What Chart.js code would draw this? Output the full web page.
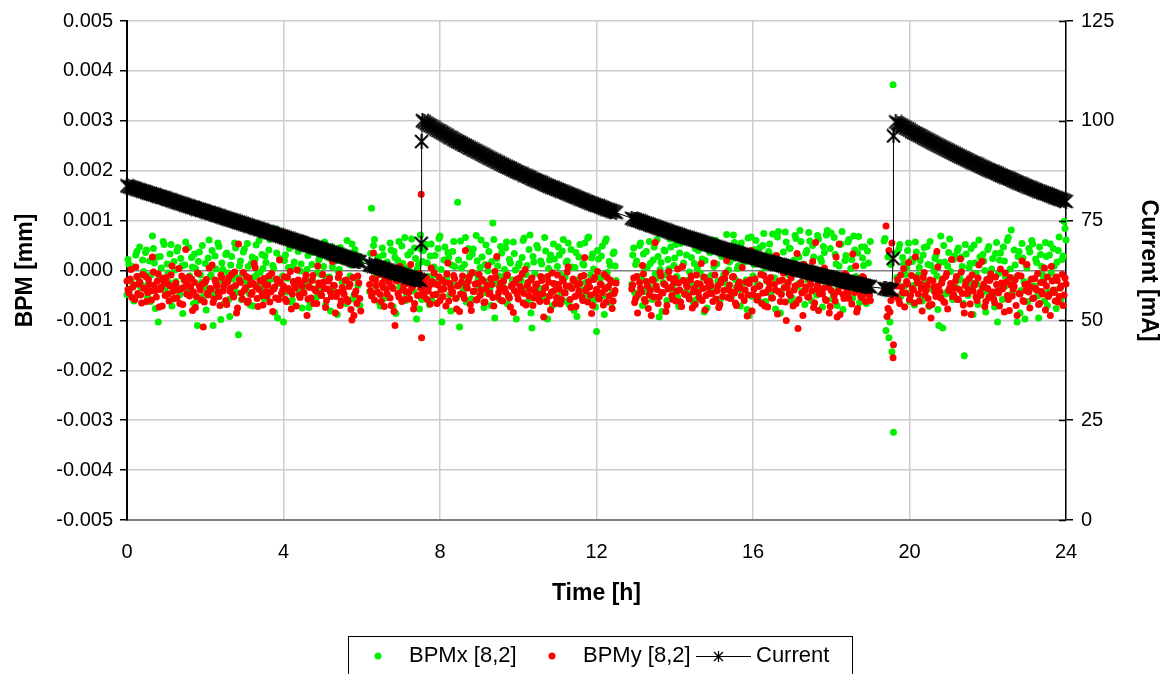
<!DOCTYPE html>
<html lang="en">
<head>
  <meta charset="UTF-8" />
  <title>BPM [8,2] and beam current, 24 h</title>
  <script src="https://cdn.jsdelivr.net/npm/chart.js"></script>
  <style>
    body { margin: 0; background: white; }
    #chart { display: block; }
  </style>
</head>
<body>
  <canvas id="chart" width="1163" height="674"></canvas>

  <script>
    // log sample times [h] (BPM and current logged together)
    const hours = [
      0,0.05,0.1,0.15,0.2,0.25,0.3,0.35,0.4,0.45,
      0.5,0.55,0.6,0.65,0.7,0.75,0.8,0.85,0.9,0.95,
      1,1.05,1.1,1.15,1.2,1.25,1.3,1.35,1.4,1.45,
      1.5,1.55,1.6,1.65,1.7,1.75,1.8,1.85,1.9,1.95,
      2,2.05,2.1,2.15,2.2,2.25,2.3,2.35,2.4,2.45,
      2.5,2.55,2.6,2.65,2.7,2.75,2.8,2.85,2.9,2.95,
      3,3.05,3.1,3.15,3.2,3.25,3.3,3.35,3.4,3.45,
      3.5,3.55,3.6,3.65,3.7,3.75,3.8,3.85,3.9,3.95,
      4,4.05,4.1,4.15,4.2,4.25,4.3,4.35,4.4,4.45,
      4.5,4.55,4.6,4.65,4.7,4.75,4.8,4.85,4.9,4.95,
      5,5.05,5.1,5.15,5.2,5.25,5.3,5.35,5.4,5.45,
      5.5,5.55,5.6,5.65,5.7,5.75,5.8,5.85,5.9,5.95,
      6.2,6.25,6.3,6.35,6.4,6.45,6.5,6.55,6.6,6.65,
      6.7,6.75,6.8,6.85,6.9,6.95,7,7.05,7.1,7.15,
      7.2,7.25,7.3,7.35,7.4,7.45,7.5,
      7.52,7.53,
      7.55,7.6,7.65,7.7,7.75,7.8,7.85,7.9,7.95,8,
      8.05,8.1,8.15,8.2,8.25,8.3,8.35,8.4,8.45,8.5,
      8.55,8.6,8.65,8.7,8.75,8.8,8.85,8.9,8.95,9,
      9.05,9.1,9.15,9.2,9.25,9.3,9.35,9.4,9.45,9.5,
      9.55,9.6,9.65,9.7,9.75,9.8,9.85,9.9,9.95,10,
      10.05,10.1,10.15,10.2,10.25,10.3,10.35,10.4,10.45,10.5,
      10.55,10.6,10.65,10.7,10.75,10.8,10.85,10.9,10.95,11,
      11.05,11.1,11.15,11.2,11.25,11.3,11.35,11.4,11.45,11.5,
      11.55,11.6,11.65,11.7,11.75,11.8,11.85,11.9,11.95,12,
      12.05,12.1,12.15,12.2,12.25,12.3,12.35,12.4,12.45,12.5,
      12.9,12.95,13,13.05,13.1,13.15,13.2,13.25,13.3,13.35,
      13.4,13.45,13.5,13.55,13.6,13.65,13.7,13.75,13.8,13.85,
      13.9,13.95,14,14.05,14.1,14.15,14.2,14.25,14.3,14.35,
      14.4,14.45,14.5,14.55,14.6,14.65,14.7,14.75,14.8,14.85,
      14.9,14.95,15,15.05,15.1,15.15,15.2,15.25,15.3,15.35,
      15.4,15.45,15.5,15.55,15.6,15.65,15.7,15.75,15.8,15.85,
      15.9,15.95,16,16.05,16.1,16.15,16.2,16.25,16.3,16.35,
      16.4,16.45,16.5,16.55,16.6,16.65,16.7,16.75,16.8,16.85,
      16.9,16.95,17,17.05,17.1,17.15,17.2,17.25,17.3,17.35,
      17.4,17.45,17.5,17.55,17.6,17.65,17.7,17.75,17.8,17.85,
      17.9,17.95,18,18.05,18.1,18.15,18.2,18.25,18.3,18.35,
      18.4,18.45,18.5,18.55,18.6,18.65,18.7,18.75,18.8,18.85,
      18.9,18.95,19,
      19.35,19.4,19.45,19.5,19.55,
      19.58,19.59,
      19.65,19.7,19.75,19.8,19.85,19.9,19.95,20,20.05,20.1,
      20.15,20.2,20.25,20.3,20.35,20.4,20.45,20.5,20.55,20.6,
      20.65,20.7,20.75,20.8,20.85,20.9,20.95,21,21.05,21.1,
      21.15,21.2,21.25,21.3,21.35,21.4,21.45,21.5,21.55,21.6,
      21.65,21.7,21.75,21.8,21.85,21.9,21.95,22,22.05,22.1,
      22.15,22.2,22.25,22.3,22.35,22.4,22.45,22.5,22.55,22.6,
      22.65,22.7,22.75,22.8,22.85,22.9,22.95,23,23.05,23.1,
      23.15,23.2,23.25,23.3,23.35,23.4,23.45,23.5,23.55,23.6,
      23.65,23.7,23.75,23.8,23.85,23.9,23.95,24
    ];

    // BPM readings in µm (axis is labelled in mm)
    const bpmX = [
      -0.48,0.12,-0.21,0.05,-0.55,0.38,-0.12,-0.34,0.21,-0.08,
      0.41,-0.27,-0.62,0.69,0.15,-0.39,-1.03,0.28,-0.15,0.52,
      -0.31,-0.05,0.33,-0.71,0.18,-0.22,0.46,-0.48,0.09,-0.18,
      0.57,-0.35,-0.11,0.26,-0.66,0.04,-1.10,0.37,-0.24,-0.52,
      0.14,-0.41,0.61,-0.09,-1.10,0.29,-0.33,0.48,-0.98,0.02,
      -0.26,0.35,-0.58,0.11,-0.17,0.55,-0.44,-1.29,0.19,-0.07,
      0.43,-0.36,0.08,-0.69,0.27,-0.13,0.51,-0.29,-0.04,0.32,
      -0.56,0.16,-0.21,0.62,-0.38,0.05,0.83,-0.95,0.24,-0.47,
      -1.03,0.31,-0.16,0.44,-0.63,0.09,-0.27,0.58,-0.41,0.13,
      0.65,-0.32,0.02,-0.74,0.36,-0.19,0.49,-0.53,0.21,-0.08,
      -0.37,0.57,-0.14,0.25,-0.81,0.07,0.39,-0.45,-0.02,0.46,
      -0.23,0.18,-0.66,0.34,-0.11,0.53,-0.49,0.12,-0.30,-0.70,
      -0.42,1.25,0.50,-0.31,0.22,-0.64,0.08,0.31,-0.55,0.17,
      -0.18,0.41,-0.72,0.26,-0.09,0.58,-0.37,0.14,0.66,-0.48,
      0.03,0.37,-0.26,0.45,-0.97,0.12,0.71,
      0.42,-0.58,
      0.18,-0.35,0.52,-0.12,0.29,-0.61,0.07,-0.24,0.44,0.69,
      -1.03,0.21,-0.17,0.36,-0.48,0.11,0.58,-0.29,1.37,-1.13,
      0.05,-0.39,0.66,-0.14,0.27,-0.57,0.43,-0.06,0.19,-0.33,
      0.61,-0.45,0.12,-0.22,0.38,-0.70,0.95,-0.95,0.24,-0.11,
      0.48,-0.31,0.02,0.57,-0.52,0.15,-0.19,0.34,-0.97,0.09,
      -0.41,0.26,0.65,-0.08,-0.62,0.71,-1.15,0.17,-0.28,0.45,
      -0.36,0.13,-0.55,0.39,-0.97,0.21,-0.04,0.53,-0.27,0.08,
      0.31,-0.46,0.62,-0.13,0.19,-0.68,0.42,-0.21,0.06,-0.92,
      0.27,-0.38,0.14,0.55,-0.49,0.67,-0.09,0.33,-0.58,-1.22,
      0.23,-0.16,0.49,-0.88,0.63,-0.32,0.10,-0.44,0.37,-0.20,
      -0.28,0.45,0.12,-0.51,0.50,-0.16,0.33,-0.42,0.07,0.58,
      -0.35,0.21,-0.07,0.62,-0.93,0.16,-0.24,0.39,-0.60,0.03,
      0.47,-0.31,0.25,-0.12,-0.72,0.54,0.09,-0.44,0.31,-0.19,
      0.66,-0.27,0.14,-0.58,0.40,-0.05,0.23,-0.83,0.51,-0.14,
      0.36,-0.40,0.08,0.60,-0.22,-0.67,0.28,-0.09,0.45,-0.33,
      0.17,-0.52,0.71,-0.18,0.04,-0.38,0.55,-0.26,0.32,-0.78,
      -0.90,0.67,-0.11,0.42,-0.29,0.19,-0.63,0.50,0.06,-0.21,
      0.38,-0.46,0.73,-0.15,0.26,0.78,-0.85,0.11,-0.34,0.57,
      -0.08,0.44,-0.55,0.21,0.64,-0.27,0.80,-0.42,0.13,0.35,
      -0.19,0.59,-0.61,0.27,-0.03,0.70,-0.36,0.18,0.48,-0.24,
      0.80,-0.13,0.75,-0.47,0.32,-0.70,0.09,0.53,-0.78,0.20,
      -0.31,0.62,0.04,-0.55,0.41,-0.17,0.68,-0.38,0.25,0.47,
      -0.66,0.15,0.58,
      0.59,-1.20,0.27,-1.03,-1.63,
      3.72,-3.24,
      0.35,-0.21,0.52,-0.47,0.13,-0.08,0.40,-0.62,0.22,-0.30,
      0.57,-0.15,0.06,-0.53,0.31,-0.26,0.48,-0.72,0.10,-0.39,
      0.24,-0.11,-1.10,0.69,-1.15,0.17,-0.44,0.36,-0.02,-0.58,
      0.29,-0.34,0.45,-0.19,0.08,-1.71,0.33,-0.50,0.14,-0.25,
      0.51,-0.06,-0.68,0.27,-0.37,0.19,-0.83,0.42,-0.14,0.03,
      -0.46,0.34,-1.03,0.21,-0.29,0.47,-0.12,0.60,-0.55,0.81,
      -0.23,0.11,-1.03,0.38,-0.40,0.25,-0.97,0.05,0.44,-0.18,
      0.53,-0.31,0.16,-0.95,0.32,-0.08,-0.61,0.28,-0.43,0.53,
      -0.20,0.09,-0.76,0.40,-0.35,0.22,0.98,0.61
    ];

    const bpmY = [
      -0.21,-0.45,0.02,-0.33,-0.58,-0.12,-0.27,-0.49,-0.08,-0.36,
      -0.62,-0.18,-0.41,0.27,-0.29,-0.53,-0.07,-0.38,-0.71,-0.22,
      -0.14,-0.47,-0.31,0.09,-0.56,-0.25,-0.39,-0.66,-0.11,-0.34,
      0.42,-0.28,-0.51,-0.17,-0.43,-0.74,-0.05,-0.32,-0.59,-1.13,
      -0.23,-0.46,0.05,-0.37,-0.64,-0.19,-0.30,-0.52,-0.09,-0.41,
      -0.26,-0.68,-0.15,-0.35,-0.48,-0.03,-0.85,0.53,-0.24,-0.57,
      -0.39,-0.12,-0.61,-0.28,-0.44,0.14,-0.33,-0.72,-0.20,-0.50,
      -0.16,-0.42,-0.29,-0.63,-0.06,-0.37,-0.55,-0.23,0.21,-0.46,
      -0.31,-0.58,-0.13,-0.40,-0.77,-0.22,-0.35,0.01,-0.49,-0.27,
      -0.44,-0.18,-0.90,-0.32,-0.55,-0.10,-0.38,-0.66,-0.25,-0.47,
      -0.08,-0.36,-0.60,-0.21,-0.43,0.18,-0.30,-0.52,-0.14,-0.70,
      -0.34,-0.48,-0.19,-0.62,-0.27,-0.99,-0.90,-0.41,-0.11,-0.56,
      -0.28,-0.51,0.35,-0.19,-0.43,-0.08,-0.62,-0.34,-0.15,-0.47,
      -0.24,-0.70,-0.36,-1.10,-0.21,-0.53,-0.05,-0.39,-0.58,-0.26,
      -0.44,0.12,-0.31,-0.66,-0.18,-0.49,-0.35,
      1.53,-1.35,
      -0.33,-0.52,-0.14,-0.41,-0.67,-0.22,-0.05,-0.48,-0.29,-0.60,
      -0.19,-0.37,-0.71,0.15,-0.26,-0.45,-0.10,-0.56,-0.31,-0.82,
      -0.23,-0.49,0.40,-0.35,-0.13,-0.80,-0.42,-0.27,-0.58,-0.08,
      -0.39,-0.21,-0.63,-0.30,-0.47,-0.16,-0.54,-0.02,0.28,-0.44,
      -0.25,-0.61,-0.36,-0.11,-0.50,-0.73,-0.28,-0.40,-0.18,-0.57,
      -0.32,-0.07,-0.46,-0.69,-0.24,-0.38,-0.15,-0.55,-0.30,-0.48,
      -0.62,-0.20,-0.93,-0.34,-0.12,-0.51,-0.43,-0.26,-0.66,-0.09,
      -0.37,-0.58,-0.21,-0.45,-0.03,-0.31,-0.74,-0.17,-0.52,-0.29,
      -0.41,-0.12,-0.60,0.26,-0.35,-0.22,-0.49,-0.70,-0.14,-0.38,
      -0.55,-0.27,-0.44,-0.08,-0.63,-0.33,-0.19,-0.76,-0.46,-0.25,
      -0.37,-0.15,-0.56,-0.85,-0.24,-0.43,-0.07,-0.62,-0.31,-0.49,
      -0.90,-0.20,0.56,-0.38,-0.53,-0.11,-0.45,-0.28,-0.70,-0.02,
      -0.34,-0.58,-0.16,-0.41,-0.25,-0.63,0.08,-0.47,-0.30,-0.52,
      -0.19,-0.75,-0.36,-0.09,-0.44,-0.27,-0.60,-0.13,-0.50,-0.33,
      -0.22,-0.46,0.15,-0.57,-0.31,-0.68,-0.18,-0.40,-0.05,-0.54,
      -0.29,-0.43,-0.12,-0.65,-0.35,-0.23,-0.51,0.22,-0.39,-0.91,
      -0.26,0.40,-0.48,-0.17,-0.59,-0.32,-0.08,-0.45,-0.71,-0.20,
      -0.37,-0.14,-0.55,-0.28,0.30,-0.42,-0.62,-0.19,-0.34,-1.00,
      -0.24,-0.50,-0.06,-0.39,-0.66,-1.16,-0.27,-0.45,0.12,-0.33,
      -0.53,-0.18,-0.41,-0.74,0.56,-0.29,-0.47,-0.10,-0.36,-0.58,
      -0.22,-0.85,-0.40,-0.15,-0.61,-0.93,0.53,-0.31,-0.48,-0.07,
      -0.38,-0.56,-0.20,0.33,-0.44,-0.83,-0.26,-0.51,-0.12,-0.35,
      -0.47,-0.23,-0.60,
      -0.40,0.89,-0.76,-0.83,0.55,
      -1.75,-1.49,
      -0.52,-0.18,-0.66,-0.33,0.04,-0.45,-0.27,-0.58,-0.10,-0.39,
      0.27,-0.24,-0.61,-0.36,-0.14,-0.49,-0.29,-0.70,-0.95,-0.21,
      -0.43,0.38,-0.31,-0.55,-0.17,-0.64,-0.06,-0.40,-0.26,-0.52,
      -0.35,-0.12,-0.58,0.23,-0.46,-0.85,-0.22,-0.38,-0.67,-0.09,
      -0.30,-0.53,-0.15,-0.44,0.18,-0.27,-0.62,-0.36,-0.20,-0.48,
      -0.57,-0.13,-0.41,-0.71,-0.25,-0.34,-0.05,-0.50,-0.80,-0.29,
      -0.37,-0.19,-0.90,-0.46,-0.11,-0.60,-0.28,0.12,-0.43,-0.33,
      -0.56,-0.16,-0.39,-0.68,-0.24,-0.47,0.05,-0.31,-0.52,-0.90,
      -0.21,-0.44,-0.13,-0.63,-0.35,-0.08,-0.49,-0.27
    ];

    // second BPM pass, read half way between the samples above
    const hours2 = [
      0.025,0.075,0.125,0.175,0.225,0.275,0.325,0.375,0.425,0.475,
      0.525,0.575,0.625,0.675,0.725,0.775,0.825,0.875,0.925,0.975,
      1.025,1.075,1.125,1.175,1.225,1.275,1.325,1.375,1.425,1.475,
      1.525,1.575,1.625,1.675,1.725,1.775,1.825,1.875,1.925,1.975,
      2.025,2.075,2.125,2.175,2.225,2.275,2.325,2.375,2.425,2.475,
      2.525,2.575,2.625,2.675,2.725,2.775,2.825,2.875,2.925,2.975,
      3.025,3.075,3.125,3.175,3.225,3.275,3.325,3.375,3.425,3.475,
      3.525,3.575,3.625,3.675,3.725,3.775,3.825,3.875,3.925,3.975,
      4.025,4.075,4.125,4.175,4.225,4.275,4.325,4.375,4.425,4.475,
      4.525,4.575,4.625,4.675,4.725,4.775,4.825,4.875,4.925,4.975,
      5.025,5.075,5.125,5.175,5.225,5.275,5.325,5.375,5.425,5.475,
      5.525,5.575,5.625,5.675,5.725,5.775,5.825,5.875,5.925,5.975,
      6.225,6.275,6.325,6.375,6.425,6.475,6.525,6.575,6.625,6.675,
      6.725,6.775,6.825,6.875,6.925,6.975,7.025,7.075,7.125,7.175,
      7.225,7.275,7.325,7.375,7.425,7.475,
      7.575,7.625,7.675,7.725,7.775,7.825,7.875,7.925,7.975,8.025,
      8.075,8.125,8.175,8.225,8.275,8.325,8.375,8.425,8.475,8.525,
      8.575,8.625,8.675,8.725,8.775,8.825,8.875,8.925,8.975,9.025,
      9.075,9.125,9.175,9.225,9.275,9.325,9.375,9.425,9.475,9.525,
      9.575,9.625,9.675,9.725,9.775,9.825,9.875,9.925,9.975,10.025,
      10.075,10.125,10.175,10.225,10.275,10.325,10.375,10.425,10.475,10.525,
      10.575,10.625,10.675,10.725,10.775,10.825,10.875,10.925,10.975,11.025,
      11.075,11.125,11.175,11.225,11.275,11.325,11.375,11.425,11.475,11.525,
      11.575,11.625,11.675,11.725,11.775,11.825,11.875,11.925,11.975,12.025,
      12.075,12.125,12.175,12.225,12.275,12.325,12.375,12.425,12.475,
      12.925,12.975,13.025,13.075,13.125,13.175,13.225,13.275,13.325,13.375,
      13.425,13.475,13.525,13.575,13.625,13.675,13.725,13.775,13.825,13.875,
      13.925,13.975,14.025,14.075,14.125,14.175,14.225,14.275,14.325,14.375,
      14.425,14.475,14.525,14.575,14.625,14.675,14.725,14.775,14.825,14.875,
      14.925,14.975,15.025,15.075,15.125,15.175,15.225,15.275,15.325,15.375,
      15.425,15.475,15.525,15.575,15.625,15.675,15.725,15.775,15.825,15.875,
      15.925,15.975,16.025,16.075,16.125,16.175,16.225,16.275,16.325,16.375,
      16.425,16.475,16.525,16.575,16.625,16.675,16.725,16.775,16.825,16.875,
      16.925,16.975,17.025,17.075,17.125,17.175,17.225,17.275,17.325,17.375,
      17.425,17.475,17.525,17.575,17.625,17.675,17.725,17.775,17.825,17.875,
      17.925,17.975,18.025,18.075,18.125,18.175,18.225,18.275,18.325,18.375,
      18.425,18.475,18.525,18.575,18.625,18.675,18.725,18.775,18.825,18.875,
      18.925,18.975,
      19.375,19.425,19.475,19.525,
      19.675,19.725,19.775,19.825,19.875,19.925,19.975,20.025,20.075,20.125,
      20.175,20.225,20.275,20.325,20.375,20.425,20.475,20.525,20.575,20.625,
      20.675,20.725,20.775,20.825,20.875,20.925,20.975,21.025,21.075,21.125,
      21.175,21.225,21.275,21.325,21.375,21.425,21.475,21.525,21.575,21.625,
      21.675,21.725,21.775,21.825,21.875,21.925,21.975,22.025,22.075,22.125,
      22.175,22.225,22.275,22.325,22.375,22.425,22.475,22.525,22.575,22.625,
      22.675,22.725,22.775,22.825,22.875,22.925,22.975,23.025,23.075,23.125,
      23.175,23.225,23.275,23.325,23.375,23.425,23.475,23.525,23.575,23.625,
      23.675,23.725,23.775,23.825,23.875,23.925,23.975
    ];

    const bpmX2 = [
      0.22,-0.37,0.08,-0.61,0.31,-0.14,0.47,-0.29,-0.02,0.36,
      -0.53,0.19,-0.08,0.44,-0.76,0.27,-0.19,0.05,0.58,-0.41,
      0.13,-0.24,0.52,-0.57,0.01,0.39,-0.35,0.24,-0.86,0.11,
      -0.16,0.46,-0.44,0.07,0.33,-0.62,0.18,-0.09,0.50,-0.30,
      -0.79,0.25,-0.12,0.40,-0.48,0.03,0.55,-0.21,0.15,-0.67,
      0.32,-0.05,-0.92,0.28,-0.33,0.45,-0.15,0.09,-0.58,0.37,
      -0.22,0.54,-0.46,0.14,-0.71,0.23,-0.07,0.60,-0.38,0.04,
      0.29,-0.55,0.41,-0.18,0.10,-0.84,0.35,-0.26,0.68,-0.11,
      0.20,-0.43,0.06,0.49,-0.59,0.17,-0.31,0.38,-0.01,-0.75,
      0.44,-0.20,0.30,-0.64,0.12,0.56,-0.36,-0.04,0.26,-0.50,
      0.08,-0.69,0.37,-0.13,0.48,-0.40,0.19,-0.88,0.02,0.33,
      -0.45,0.21,0.60,-0.28,0.11,-0.57,0.42,-0.17,0.29,0.15,
      0.34,-0.46,0.62,-0.10,0.27,-0.71,0.45,-0.20,0.13,-0.53,
      0.55,-0.02,0.38,-0.86,0.20,-0.33,0.49,0.07,-0.60,0.31,
      -0.15,0.63,-0.41,0.24,0.04,-0.77,
      0.40,-0.22,0.15,-0.68,0.53,-0.09,0.30,-0.47,0.64,0.02,
      -0.36,0.47,-0.14,0.26,-0.81,0.38,0.08,-0.55,0.21,0.59,
      -0.27,0.12,-0.63,0.44,-0.05,0.33,-0.42,0.70,-0.18,0.06,
      0.27,-0.74,0.51,-0.01,-0.39,0.18,0.62,-0.26,0.09,-0.58,
      0.35,-0.12,0.45,-0.67,0.22,-0.30,0.57,0.01,-0.48,0.14,
      -0.20,0.60,-0.37,0.10,0.42,-0.85,0.28,-0.06,0.50,-0.43,
      0.19,-0.15,0.66,-0.52,0.04,0.31,-0.70,0.23,-0.29,0.47,
      -0.08,0.39,-0.61,0.16,0.55,-0.34,0.07,-0.80,0.36,-0.19,
      0.52,-0.42,0.11,-0.24,0.65,-0.56,0.25,0.03,-0.73,0.40,
      -0.13,0.29,-0.50,0.58,-0.04,0.18,-0.65,0.34,0.09,
      0.31,-0.44,0.19,-0.12,0.55,-0.70,0.06,0.38,-0.25,0.14,
      -0.58,0.47,-0.16,0.28,0.02,-0.82,0.41,-0.09,0.22,0.63,
      -0.37,0.10,0.52,-0.53,0.35,-0.20,0.15,0.68,-0.46,-0.03,
      0.26,-0.64,0.44,0.05,-0.31,0.57,-0.14,0.20,-0.75,0.39,
      -0.10,0.61,-0.40,0.13,0.48,-0.56,0.30,-0.23,0.72,0.01,
      -0.47,0.24,0.56,-0.33,0.09,-0.71,0.42,0.17,-0.19,0.65,
      0.34,-0.52,0.12,0.60,-0.28,0.46,-0.07,0.74,-0.62,0.21,
      0.53,-0.15,0.29,-0.77,0.67,0.08,-0.41,0.37,0.77,-0.24,
      0.45,-0.60,0.18,0.70,-0.32,0.27,0.58,-0.11,-0.68,0.40,
      0.76,-0.21,0.50,0.03,-0.49,0.63,0.24,-0.73,0.36,0.71,
      -0.06,0.44,-0.57,0.66,0.13,-0.38,0.52,0.78,-0.26,0.30,
      0.57,-0.45,0.22,0.69,-0.12,0.35,-0.64,0.47,0.10,-0.30,
      0.39,-0.51,
      0.64,-0.35,-1.35,0.12,
      -0.14,0.43,-0.52,0.26,-0.31,0.05,0.55,-0.44,0.18,-0.69,
      0.37,-0.09,0.20,-0.61,0.46,-0.24,0.12,0.58,-0.36,-0.01,
      0.30,-0.78,0.16,-0.20,0.50,-0.47,0.09,0.63,-0.29,0.22,
      -0.55,0.40,-0.10,0.27,-0.66,0.52,-0.33,0.06,0.44,-0.88,
      0.15,-0.27,0.61,-0.50,0.32,0.00,-0.42,0.48,-0.16,0.24,
      -0.73,0.56,-0.06,0.35,-0.58,0.19,-0.30,0.66,0.03,-0.45,
      0.41,-0.13,0.28,-0.85,0.54,-0.22,0.12,-0.62,0.37,0.60,
      -0.35,0.23,-0.51,0.47,0.08,-0.18,0.56,-0.70,0.31,-0.05,
      0.44,-0.39,0.17,0.67,-0.57,0.29,0.84
    ];

    const bpmY2 = [
      -0.38,-0.17,-0.54,-0.29,0.07,-0.46,-0.23,-0.65,-0.35,-0.12,
      -0.44,-0.28,-0.59,-0.03,-0.40,-0.21,-0.73,-0.33,-0.16,-0.50,
      -0.26,-0.61,-0.09,-0.42,-0.31,-0.55,0.04,-0.37,-0.68,-0.20,
      -0.47,-0.13,-0.34,-0.80,-0.24,-0.52,-0.06,-0.39,-0.27,-0.63,
      -0.18,-0.49,-0.36,0.11,-0.57,-0.25,-0.43,-0.70,-0.14,-0.32,
      -0.60,-0.22,-0.41,-0.08,-0.53,-0.30,-0.75,-0.19,-0.45,-0.04,
      -0.35,-0.64,-0.15,-0.48,-0.26,0.06,-0.56,-0.38,-0.21,-0.69,
      -0.28,-0.51,-0.11,-0.43,-0.82,-0.33,-0.17,-0.58,-0.24,-0.40,
      -0.13,-0.62,-0.36,-0.02,-0.47,-0.27,-0.71,-0.19,-0.54,-0.31,
      -0.45,-0.09,-0.57,-0.34,-0.20,-0.66,-0.41,0.09,-0.29,-0.50,
      -0.23,-0.74,-0.37,-0.16,-0.52,-0.30,-0.85,-0.44,-0.07,-0.61,
      -0.39,-0.20,-0.58,-0.32,-0.78,-0.14,-0.47,-0.66,-0.25,-0.81,
      -0.41,-0.16,-0.59,-0.30,-0.02,-0.48,-0.25,-0.72,-0.37,-0.11,
      -0.55,-0.33,-0.82,-0.20,-0.46,0.08,-0.62,-0.29,-0.42,-0.14,
      -0.57,-0.35,-0.77,-0.23,-0.50,-0.06,
      -0.44,-0.20,-0.58,-0.31,0.05,-0.49,-0.27,-0.66,-0.13,-0.38,
      -0.52,-0.24,-0.07,-0.61,-0.35,-0.43,-0.16,-0.77,-0.29,-0.47,
      -0.11,-0.56,-0.33,-0.22,-0.68,-0.04,-0.41,-0.59,-0.26,-0.50,
      -0.18,-0.64,-0.37,0.10,-0.45,-0.28,-0.71,-0.14,-0.53,-0.34,
      -0.60,-0.21,-0.43,-0.09,-0.55,-0.32,-0.84,-0.25,-0.47,-0.15,
      -0.39,-0.65,0.02,-0.30,-0.51,-0.19,-0.70,-0.42,-0.27,-0.57,
      -0.12,-0.46,-0.35,-0.62,-0.23,-0.79,-0.05,-0.40,-0.54,-0.28,
      -0.67,-0.17,-0.44,-0.31,0.07,-0.58,-0.36,-0.21,-0.72,-0.48,
      -0.26,-0.53,-0.10,-0.40,-0.63,-0.33,-0.86,-0.18,-0.45,-0.02,
      -0.57,-0.29,-0.69,-0.37,-0.14,-0.51,-0.24,-0.61,-0.40,
      -0.29,-0.64,-0.12,-0.47,-0.35,0.10,-0.58,-0.22,-0.76,-0.40,
      -0.18,-0.53,-0.31,-0.66,-0.04,-0.44,-0.27,-0.82,-0.37,-0.15,
      -0.50,-0.24,-0.61,0.03,-0.39,-0.72,-0.20,-0.48,-0.33,-0.57,
      -0.11,-0.43,-0.68,-0.26,-0.54,0.14,-0.36,-0.79,-0.21,-0.46,
      -0.30,-0.62,-0.09,-0.41,-0.74,-0.25,-0.52,-0.16,0.20,-0.38,
      -0.56,-0.13,-0.45,-0.70,-0.28,-0.35,0.06,-0.60,-0.23,-0.49,
      -0.19,-0.81,-0.37,0.25,-0.52,-0.30,-0.66,-0.10,-0.44,-0.73,
      -0.27,-0.55,0.12,-0.39,-0.87,-0.21,-0.48,-0.05,-0.63,-0.34,
      -0.46,-0.15,-0.71,-0.31,0.34,-0.58,-0.24,-0.90,-0.40,-0.12,
      -0.53,-0.28,0.18,-0.65,-0.37,-0.80,-0.20,-0.47,0.05,-0.60,
      -0.33,-0.72,-0.16,-0.50,0.27,-0.42,-0.88,-0.25,-0.56,-0.08,
      -0.45,-0.19,-0.67,-0.31,0.09,-0.76,-0.38,-0.54,-0.14,-0.62,
      -0.28,-0.49,
      -0.35,-0.92,0.40,-0.60,
      -0.31,-0.59,-0.09,-0.44,-0.73,-0.22,0.16,-0.50,-0.36,-0.65,
      -0.15,-0.47,-0.27,-0.81,-0.04,-0.39,-0.56,-0.19,-0.68,-0.33,
      -0.52,0.07,-0.42,-0.25,-0.62,-0.12,-0.77,-0.35,0.22,-0.48,
      -0.21,-0.58,-0.38,-0.03,-0.69,-0.30,-0.46,-0.16,-0.88,-0.41,
      -0.26,-0.60,0.11,-0.49,-0.34,-0.72,-0.18,-0.54,-0.07,-0.43,
      -0.64,-0.28,-0.45,0.03,-0.37,-0.83,-0.23,-0.58,-0.14,-0.51,
      -0.32,-0.70,-0.10,-0.47,0.19,-0.62,-0.40,-0.27,-0.75,-0.17,
      -0.55,-0.36,-0.06,-0.66,-0.42,-0.24,-0.79,-0.13,-0.48,0.08,
      -0.39,-0.61,-0.20,-0.52,-0.31,-0.70,-0.15
    ];

    // beam current [mA] at the times in `hours`
    const currentMA = [
      83.7,83.5,83.4,83.2,83.1,82.9,82.7,82.6,82.4,82.3,
      82.1,81.9,81.8,81.6,81.5,81.3,81.1,81.0,80.8,80.7,
      80.5,80.3,80.2,80.0,79.9,79.7,79.5,79.4,79.2,79.1,
      78.9,78.7,78.6,78.4,78.3,78.1,77.9,77.8,77.6,77.5,
      77.3,77.1,77.0,76.8,76.7,76.5,76.3,76.2,76.0,75.9,
      75.7,75.5,75.4,75.2,75.1,74.9,74.7,74.6,74.4,74.3,
      74.1,73.9,73.8,73.6,73.5,73.3,73.1,73.0,72.8,72.7,
      72.5,72.3,72.2,72.0,71.9,71.7,71.5,71.4,71.2,71.1,
      70.9,70.7,70.6,70.4,70.3,70.1,69.9,69.8,69.6,69.5,
      69.3,69.1,69.0,68.8,68.7,68.5,68.3,68.2,68.0,67.9,
      67.7,67.5,67.4,67.2,67.1,66.9,66.7,66.6,66.4,66.3,
      66.1,65.9,65.8,65.6,65.5,65.3,65.1,65.0,64.8,64.7,
      63.9,63.8,63.6,63.5,63.3,63.2,63.0,62.9,62.7,62.6,
      62.4,62.3,62.1,62.0,61.8,61.7,61.5,61.4,61.2,61.1,
      60.9,60.8,60.6,60.5,60.3,60.2,60.0,
      69.3,94.8,
      100.0,99.7,99.4,99.1,98.8,98.5,98.2,97.9,97.6,97.4,
      97.1,96.8,96.5,96.2,95.9,95.7,95.4,95.1,94.8,94.6,
      94.3,94.0,93.8,93.5,93.2,93.0,92.7,92.5,92.2,92.0,
      91.7,91.5,91.2,91.0,90.7,90.5,90.2,90.0,89.7,89.5,
      89.2,89.0,88.7,88.5,88.3,88.1,87.8,87.6,87.3,87.1,
      86.9,86.7,86.4,86.2,86.0,85.8,85.5,85.3,85.1,84.9,
      84.7,84.5,84.2,84.0,83.8,83.6,83.4,83.2,83.0,82.8,
      82.6,82.4,82.2,82.0,81.8,81.6,81.4,81.2,81.0,80.8,
      80.6,80.4,80.2,80.0,79.8,79.6,79.4,79.2,79.0,78.8,
      78.7,78.5,78.3,78.1,77.9,77.7,77.6,77.4,77.2,77.0,
      75.6,75.4,75.2,75.05,74.9,74.7,74.5,74.35,74.2,74.0,
      73.8,73.65,73.5,73.3,73.1,72.95,72.8,72.65,72.5,72.3,
      72.1,71.95,71.8,71.65,71.5,71.3,71.1,70.95,70.8,70.65,
      70.5,70.35,70.2,70.05,69.9,69.75,69.6,69.4,69.2,69.05,
      68.9,68.75,68.6,68.45,68.3,68.15,68.0,67.85,67.7,67.6,
      67.5,67.35,67.2,67.05,66.9,66.75,66.6,66.45,66.3,66.15,
      66.0,65.9,65.8,65.65,65.5,65.35,65.2,65.05,64.9,64.8,
      64.7,64.55,64.4,64.25,64.1,64.0,63.9,63.75,63.6,63.5,
      63.4,63.25,63.1,63.0,62.9,62.75,62.6,62.5,62.4,62.25,
      62.1,62.0,61.9,61.75,61.6,61.5,61.4,61.25,61.1,61.0,
      60.9,60.8,60.7,60.55,60.4,60.3,60.2,60.1,60.0,59.85,
      59.7,59.6,59.5,59.4,59.3,59.2,59.1,58.95,58.8,58.7,
      58.6,58.5,58.4,
      58.0,57.9,57.8,57.7,57.6,
      65.5,96.2,
      99.7,99.4,99.1,98.8,98.5,98.2,97.95,97.7,97.4,97.1,
      96.85,96.6,96.35,96.1,95.8,95.5,95.25,95.0,94.75,94.5,
      94.25,94.0,93.75,93.5,93.25,93.0,92.75,92.5,92.25,92.0,
      91.75,91.5,91.25,91.0,90.8,90.6,90.35,90.1,89.85,89.6,
      89.4,89.2,88.95,88.7,88.5,88.3,88.05,87.8,87.6,87.4,
      87.2,87.0,86.75,86.5,86.3,86.1,85.9,85.7,85.5,85.3,
      85.05,84.8,84.6,84.4,84.2,84.0,83.8,83.6,83.4,83.2,
      83.0,82.8,82.6,82.4,82.2,82.0,81.85,81.7,81.5,81.3,
      81.1,80.9,80.7,80.5,80.35,80.2,80.0,79.8
    ];

    const timeTicks = [0, 4, 8, 12, 16, 20, 24];
    const bpmTicks = [-0.005, -0.004, -0.003, -0.002, -0.001, 0, 0.001, 0.002, 0.003, 0.004, 0.005];
    const currentTicks = [0, 25, 50, 75, 100, 125];

    const FONT = "'Liberation Sans', Arial, sans-serif";
    Chart.defaults.font.family = FONT;
    Chart.defaults.color = '#000';

    // Excel style "*" marker: an x with a vertical bar
    function makeAsterisk(size, width) {
      const c = document.createElement('canvas');
      c.width = size;
      c.height = size;
      const g = c.getContext('2d');
      const m = size / 2;
      g.strokeStyle = '#000';
      g.lineWidth = width;
      g.beginPath();
      g.moveTo(1, 1); g.lineTo(size - 1, size - 1);
      g.moveTo(size - 1, 1); g.lineTo(1, size - 1);
      g.moveTo(m, 0); g.lineTo(m, size);
      g.stroke();
      return c;
    }
    const asterisk = makeAsterisk(15, 2);
    const legendAsterisk = makeAsterisk(11, 1.3);

    const toPoints = (xs, ys, scale) => xs.map((h, i) => ({ x: h, y: ys[i] * scale }));

    // right axis ticks cross the axis line
    const innerTicks = {
      id: 'innerTicks',
      afterDraw(chart) {
        const s = chart.scales.yCur;
        const ctx = chart.ctx;
        ctx.save();
        ctx.strokeStyle = '#000';
        ctx.lineWidth = 1.5;
        currentTicks.forEach(v => {
          const y = Math.round(s.getPixelForValue(v)) + 0.5;
          ctx.beginPath();
          ctx.moveTo(chart.chartArea.right - 7, y);
          ctx.lineTo(chart.chartArea.right, y);
          ctx.stroke();
        });
        ctx.restore();
      }
    };

    // boxed legend under the chart
    const boxLegend = {
      id: 'boxLegend',
      afterDraw(chart) {
        const ctx = chart.ctx;
        const y = 656;
        ctx.save();
        ctx.strokeStyle = '#000';
        ctx.lineWidth = 1;
        ctx.strokeRect(348.5, 636.5, 504, 50);
        ctx.font = '22px ' + FONT;
        ctx.textBaseline = 'middle';

        ctx.fillStyle = '#00f000';
        ctx.beginPath(); ctx.arc(378, y, 3.5, 0, Math.PI * 2); ctx.fill();
        ctx.fillStyle = '#000';
        ctx.fillText('BPMx [8,2]', 409, y);

        ctx.fillStyle = '#ff0000';
        ctx.beginPath(); ctx.arc(552, y, 3.5, 0, Math.PI * 2); ctx.fill();
        ctx.fillStyle = '#000';
        ctx.fillText('BPMy [8,2]', 583, y);

        ctx.beginPath();
        ctx.moveTo(696, y + 0.5);
        ctx.lineTo(751, y + 0.5);
        ctx.stroke();
        ctx.drawImage(legendAsterisk, 713, y - 5);
        ctx.fillText('Current', 756, y);
        ctx.restore();
      }
    };

    const gridGrey = '#cccccc';
    const axisGrey = '#808080';

    new Chart(document.getElementById('chart'), {
      type: 'scatter',
      data: {
        datasets: [
          {
            label: 'Current',
            type: 'line',
            data: toPoints(hours, currentMA, 1),
            yAxisID: 'yCur',
            borderColor: '#000',
            borderWidth: 1,
            pointStyle: asterisk,
            pointRadius: 7,
            tension: 0,
            clip: false,
            order: 0
          },
          {
            label: 'BPMy [8,2]',
            data: toPoints(hours, bpmY, 0.001).concat(toPoints(hours2, bpmY2, 0.001)),
            yAxisID: 'y',
            backgroundColor: '#ff0000',
            borderColor: '#ff0000',
            borderWidth: 0,
            pointRadius: 3.5,
            clip: false,
            order: 1
          },
          {
            label: 'BPMx [8,2]',
            data: toPoints(hours, bpmX, 0.001).concat(toPoints(hours2, bpmX2, 0.001)),
            yAxisID: 'y',
            backgroundColor: '#00f000',
            borderColor: '#00f000',
            borderWidth: 0,
            pointRadius: 3.5,
            clip: false,
            order: 2
          }
        ]
      },
      options: {
        responsive: false,
        animation: false,
        events: [],
        layout: { padding: { top: 21, left: 0, right: 0, bottom: 0 } },
        plugins: { legend: { display: false }, tooltip: { enabled: false } },
        scales: {
          x: {
            type: 'linear',
            min: 0,
            max: 24,
            afterBuildTicks: s => { s.ticks = timeTicks.map(v => ({ value: v })); },
            afterFit: s => { s.height = 154; },
            ticks: { font: { size: 20 }, padding: 20, maxRotation: 0, autoSkip: false },
            grid: { color: gridGrey, lineWidth: 1.5, drawTicks: false },
            border: { color: axisGrey, width: 2 },
            title: { display: true, text: 'Time [h]', font: { size: 23, weight: 'bold' }, padding: { bottom: 67 } }
          },
          y: {
            position: 'left',
            min: -0.005,
            max: 0.005,
            afterBuildTicks: s => { s.ticks = bpmTicks.map(v => ({ value: v })); },
            afterFit: s => { s.width = 127; },
            ticks: { font: { size: 20 }, padding: 7, autoSkip: false, callback: v => v.toFixed(3) },
            grid: {
              color: c => (c.tick && (c.tick.value === 0 || c.tick.value === -0.005)) ? axisGrey : gridGrey,
              lineWidth: 1.5,
              tickColor: '#000',
              tickLength: 7
            },
            border: { color: '#000', width: 2 },
            title: { display: true, text: 'BPM [mm]', font: { size: 23, weight: 'bold' }, padding: { top: 12 } }
          },
          yCur: {
            position: 'right',
            min: 0,
            max: 125,
            afterBuildTicks: s => { s.ticks = currentTicks.map(v => ({ value: v })); },
            afterFit: s => { s.width = 97; },
            ticks: { font: { size: 20 }, padding: 8, autoSkip: false },
            grid: { drawOnChartArea: false, tickColor: '#000', tickLength: 7, lineWidth: 1.5 },
            border: { color: '#000', width: 1.5 },
            title: { display: true, text: 'Current [mA]', font: { size: 23, weight: 'bold' }, padding: { top: 1 } }
          }
        }
      },
      plugins: [innerTicks, boxLegend]
    });
  </script>
</body>
</html>
